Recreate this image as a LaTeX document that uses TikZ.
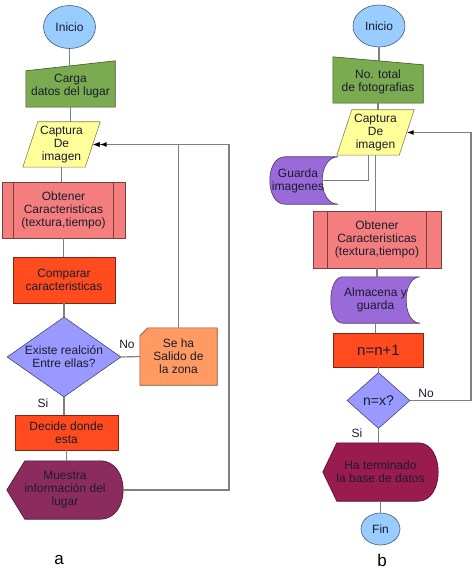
\documentclass[tikz,border=0pt]{standalone}
\usepackage{fontspec}
\setmainfont{Liberation Sans}
\usepackage{tikz}
\usetikzlibrary{positioning,arrows.meta,shapes.geometric}
\usepackage{xcolor}
\pgfdeclarelayer{back}
\pgfsetlayers{back,main}

\definecolor{cblue}{HTML}{99CCFF}
\definecolor{cgreen}{HTML}{7AAB50}
\definecolor{cyellow}{HTML}{FFFF99}
\definecolor{cpink}{HTML}{F47E7E}
\definecolor{cred}{HTML}{FF4B1E}
\definecolor{clav}{HTML}{9999FF}
\definecolor{corange}{HTML}{FF9B62}
\definecolor{cmaroon}{HTML}{8C2C5E}
\definecolor{ccrimson}{HTML}{9A1B4E}
\definecolor{cpurple}{HTML}{9A6AD9}
\definecolor{cline}{HTML}{808080}
\definecolor{ctext}{HTML}{1C1C30}

\begin{document}
\begin{tikzpicture}[x=1pt, y=-1pt,
    every node/.style={font=\fontsize{12}{13}\selectfont, text=ctext, align=center},
    term/.style={ellipse, fill=cblue, draw=cblue!45!black, line width=0.6pt, inner sep=0pt},
    proc/.style={rectangle, fill=#1, draw=#1!50!black, line width=0.6pt, inner sep=0pt},
    decis/.style={diamond, fill=clav, draw=clav!45!black, line width=0.6pt, inner sep=0pt},
    holder/.style={rectangle, inner sep=0pt},
    outl/.style={fill=#1, draw=#1!50!black, line width=0.6pt},
    edge/.style={draw=cline, line width=1.2pt},
    tip/.style={-{Latex[length=7pt,width=5pt,color=black]}},
    tag/.style={font=\fontsize{17}{20}\selectfont, text=black}]
  \useasboundingbox (0,0) rectangle (474,569);

  % Chart a
  \node[term, minimum width=52pt, minimum height=43pt] (ini1) at (69.5,27) {Inicio};
  \node[holder, minimum width=89pt, minimum height=41pt] (carga) at (70.5,86.5) {Carga\\datos del lugar};
  \node[holder, minimum width=62pt, minimum height=45pt] (capt1) at (61.5,144.5) {Captura\\De\\imagen};
  \node[proc=cpink, minimum width=123pt, minimum height=56pt] (obt1) at (63.5,210) {Obtener\\Caracteristicas\\(textura,tiempo)};
  \node[proc=cred, minimum width=102pt, minimum height=46pt] (comp1) at (64,280) {Comparar\\caracteristicas};
  \node[decis, minimum width=114pt, minimum height=80pt,
        label={center:Existe realción\\Entre ellas?}] (dec1) at (64,357) {};
  \node[holder, minimum width=77pt, minimum height=57pt] (seha) at (178.5,356.5) {Se ha\\Salido de\\la zona};
  \node[proc=cred, minimum width=103pt, minimum height=35pt] (decide) at (66.5,432.5) {Decide donde\\esta};
  \node[holder, minimum width=116pt, minimum height=58pt] (disp1) at (65,490) {Muestra\\información del\\lugar};
  \node (no1) at (127,344) {No};
  \node (si1) at (43,403) {Si};
  \node[tag] (tag1) at (59,560) {a};

  % Chart b
  \node[term, minimum width=52pt, minimum height=42pt] (ini2) at (379,26) {Inicio};
  \node[holder, minimum width=90pt, minimum height=42pt] (total) at (378,82) {No. total\\de fotografias};
  \node[holder, minimum width=62pt, minimum height=45pt] (capt2) at (375.5,132.5) {Captura\\De\\imagen};
  \node[holder, minimum width=68pt, minimum height=47pt,
        label={[xshift=-6pt]center:Guarda\\imagenes}] (guarda) at (304,180.5) {};
  \node[proc=cpink, minimum width=128pt, minimum height=57pt] (obt2) at (377,239.5) {Obtener\\Caracteristicas\\(textura,tiempo)};
  \node[holder, minimum width=89pt, minimum height=46pt] (alm) at (375.5,300) {Almacena y\\guarda};
  \node[proc=cred, minimum width=90pt, minimum height=34pt, font=\fontsize{15}{17}\selectfont] (inc) at (378.5,350) {n=n+1};
  \node[decis, minimum width=63pt, minimum height=56pt, font=\fontsize{14}{16}\selectfont] (dec2) at (378.5,400.5) {n=x?};
  \node[holder, minimum width=115pt, minimum height=58pt] (disp2) at (380.5,472) {Ha terminado\\la base de datos};
  \node[term, minimum width=39pt, minimum height=32pt] (fin) at (380.5,529) {Fin};
  \node (no2) at (426,393) {No};
  \node (si2) at (357,433) {Si};
  \node[tag] (tag2) at (382,560) {b};

  % shapes with no ready-made node shape
  \begin{pgfonlayer}{back}
    % manual input
    \filldraw[outl=cgreen] ([yshift=-5pt]carga.north west) -- ([yshift=5pt]carga.north east)
      -- (carga.south east) -- (carga.south west) -- cycle;
    \filldraw[outl=cgreen] ([yshift=4pt]total.north west) -- ([yshift=-4pt]total.north east)
      -- (total.south east) -- (total.south west) -- cycle;
    % data
    \foreach \n in {capt1,capt2}
      \filldraw[outl=cyellow] ([xshift=7.5pt]\n.north west) -- ([xshift=7.5pt]\n.north east)
        -- ([xshift=-7.5pt]\n.south east) -- ([xshift=-7.5pt]\n.south west) -- cycle;
    % stored data
    \foreach \n/\a/\c/\e in {guarda/15/5/21.3, alm/12/4/18.7}
      \filldraw[outl=cpurple] ([xshift=\a pt]\n.north west) -- (\n.north east)
        .. controls ([xshift=-\e pt]\n.north east) and ([xshift=-\e pt]\n.south east) .. (\n.south east)
        -- ([xshift=\a pt]\n.south west)
        .. controls ([xshift=-\c pt]\n.south west) and ([xshift=-\c pt]\n.north west) .. ([xshift=\a pt]\n.north west)
        -- cycle;
    % display
    \foreach \n/\s/\r/\k/\col in {disp1/18/23/7.7/cmaroon, disp2/14/20/6.7/ccrimson}
      \filldraw[outl=\col] (\n.west) -- ([xshift=\s pt]\n.north west) -- ([xshift=-\r pt]\n.north east)
        .. controls ([xshift=\k pt]\n.north east) and ([xshift=\k pt]\n.south east) .. ([xshift=-\r pt]\n.south east)
        -- ([xshift=\s pt]\n.south west) -- cycle;
    % card
    \filldraw[outl=corange] ([yshift=-8pt]seha.north west) -- ([xshift=8pt]seha.north west)
      -- (seha.north east) -- (seha.south east) -- (seha.south west) -- cycle;
  \end{pgfonlayer}

  % predefined process bars
  \foreach \n/\d in {obt1/12, obt2/15}
    \draw[draw=cpink!50!black, line width=0.6pt] ([xshift=\d pt]\n.north west) -- ([xshift=\d pt]\n.south west)
      ([xshift=-\d pt]\n.north east) -- ([xshift=-\d pt]\n.south east);

  % main flow
  \foreach \a/\b in {ini1/carga, carga/capt1, capt1/obt1, obt1/comp1, comp1/dec1, dec1/decide, decide/disp1,
                     ini2/total, total/capt2, capt2/obt2, obt2/alm, alm/inc, inc/dec2, dec2/disp2, disp2/fin}
    \draw[edge] (\a.south) -- (\a.south |- \b.north);

  % loops back to Captura
  \draw[edge] (dec1.east) -- (seha.west);
  \draw[edge, tip] (seha.north) |- (capt1.east);
  \coordinate (loop1) at (229,144.5);
  \draw[edge, -{Latex[length=7pt,width=5pt,color=black] Latex[length=7pt,width=5pt,color=black]}]
    (disp1.east) -| (loop1) -- (capt1.east);
  \draw[edge] ([xshift=-7pt]capt2.south) |- ([xshift=-16pt]guarda.east);
  \coordinate (loop2) at (471,132.5);
  \draw[edge, tip] (dec2.east) -| (loop2) -- (capt2.east);
\end{tikzpicture}
\end{document}
